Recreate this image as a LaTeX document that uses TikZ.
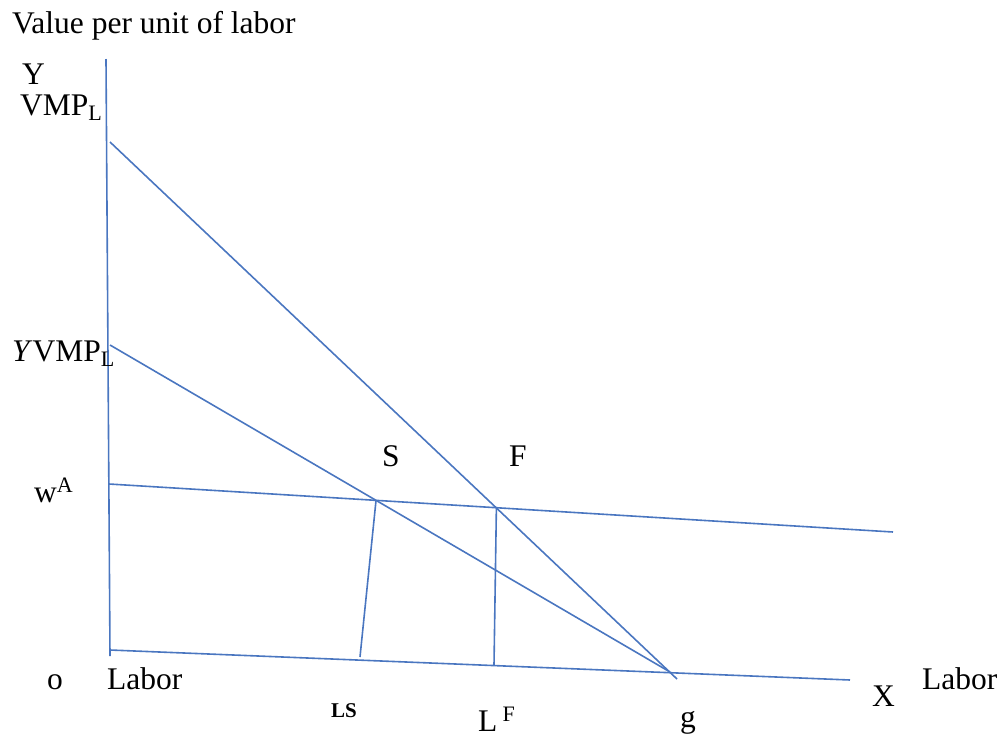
\documentclass[tikz,border=0pt]{standalone}
\usepackage{xcolor}
\usepackage{fontspec}
\setmainfont{Liberation Serif}
\definecolor{lineblue}{HTML}{4A76C0}

\begin{document}
\begin{tikzpicture}[x=1pt, y=-1pt,
    curve/.style={draw=lineblue, line width=1.6pt},
    lbl/.style={anchor=base west, inner sep=0pt, font=\fontsize{31.5}{36}\selectfont},
    small/.style={anchor=base west, inner sep=0pt, font=\fontsize{21}{24}\selectfont\bfseries}]
				\useasboundingbox (0,0) rectangle (1002,737);
				
				% axes
				\coordinate (ytop) at (106,59);
				\coordinate (ybot) at (110,656);
				\coordinate (xl) at (110,650);
				\coordinate (xr) at (850,680);
				\draw[curve] (ytop) -- (ybot);
				\draw[curve] (xl) -- (xr);
				
				% value curves and wage line
				\coordinate (vmp) at (110,142);
				\coordinate (yvmp) at (110,345);
				\coordinate (g) at (670,672);
				\coordinate (vmpend) at (677,679);
				\coordinate (wl) at (109,484);
				\coordinate (wr) at (893,532);
				\draw[curve] (vmp) -- (vmpend);
				\draw[curve] (yvmp) -- (g);
				\draw[curve] (wl) -- (wr);
				
				\coordinate (S) at (intersection of yvmp--g and wl--wr);
				\coordinate (F) at (intersection of vmp--g and wl--wr);
				\coordinate (Sb) at (360,657);
				\coordinate (Fb) at (494,665);
				\draw[curve] (S) -- (Sb);
				\draw[curve] (F) -- (Fb);
				
				% labels
				\node[lbl] (title) at (12,33) {Value per unit of labor};
				\node[lbl] (ylab) at (22,84) {Y};
				\node[lbl] (vmplab) at (20,115) {VMP\textsubscript{L}};
				\node[lbl] (yvmplab) at (12,361) {\textit{Y}VMP\textsubscript{L}};
				\node[lbl] (wlab) at (34,502) {w\textsuperscript{A}};
				\node[lbl] (Slab) at (382,466) {S};
				\node[lbl] (Flab) at (509,466) {F};
				\node[lbl] (olab) at (47,689) {o};
				\node[lbl] (laborl) at (107,689) {Labor};
				\node[small] (lslab) at (331,717) {LS};
				\node[lbl] (lflab) at (478,731) {L\,\textsuperscript{F}};
				\node[lbl] (glab) at (680,727) {g};
				\node[lbl] (xlab) at (872,706) {X};
				\node[lbl] (laborr) at (922,689) {Labor};
			\end{tikzpicture}
\end{document}
